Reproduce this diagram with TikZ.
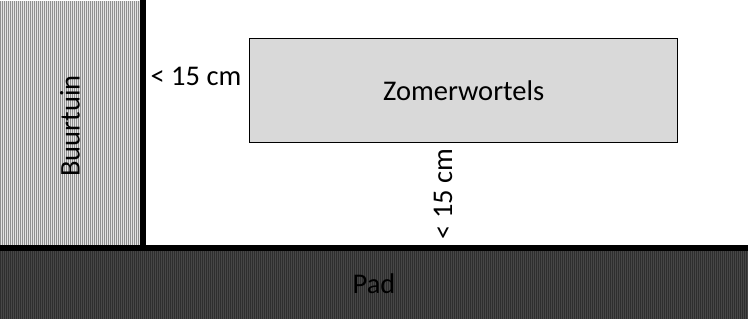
\documentclass[tikz,border=0pt]{standalone}
\usepackage{fontspec}
\setmainfont{Carlito}
\definecolor{gardenlight}{HTML}{E4E4E4}
\definecolor{gardendark}{HTML}{909090}
\definecolor{padlight}{HTML}{474747}
\definecolor{paddark}{HTML}{2E2E2E}
\definecolor{bedfill}{HTML}{D9D9D9}
\tikzset{
  lbl/.style={font=\fontsize{28.5}{33}\selectfont, inner sep=0pt, text=black},
  wall/.style={fill=black, draw=none},
}
\begin{document}
\begin{tikzpicture}[x=1pt,y=-1pt]
\useasboundingbox (0,0) rectangle (748,320);
\fill[white] (0,0) rectangle (748,320);
% Buurtuin (neighbour garden) hatched area
\fill[gardenlight] (0,1) rectangle (140,245);
\foreach \i in {0,2,...,138} {\fill[gardendark] (\i,1) rectangle (\i+1,245);}
% Pad (path)
\fill[padlight] (0,251) rectangle (748,319);
\foreach \i in {0,2,...,746} {\fill[paddark] (\i,251) rectangle (\i+1,319);}
% walls
\fill[wall] (140,0) rectangle (146,245);
\fill[wall] (0,245) rectangle (748,251);
% nodes
\node[lbl, rotate=90] (buurtuin) at (70,126) {Buurtuin};
\node[lbl] (pad) at (374,284) {Pad};
\node[draw=black, line width=1.4pt, fill=bedfill, minimum width=428pt, minimum height=104pt, inner sep=0pt, anchor=north west] (bed) at (249,38) {};
\node[lbl] (zomer) at (bed.center) {Zomerwortels};
\node[lbl] (dist1) at (196,76) {< 15 cm};
\node[lbl, rotate=90] (dist2) at (443,194) {< 15 cm};
\end{tikzpicture}
\end{document}
